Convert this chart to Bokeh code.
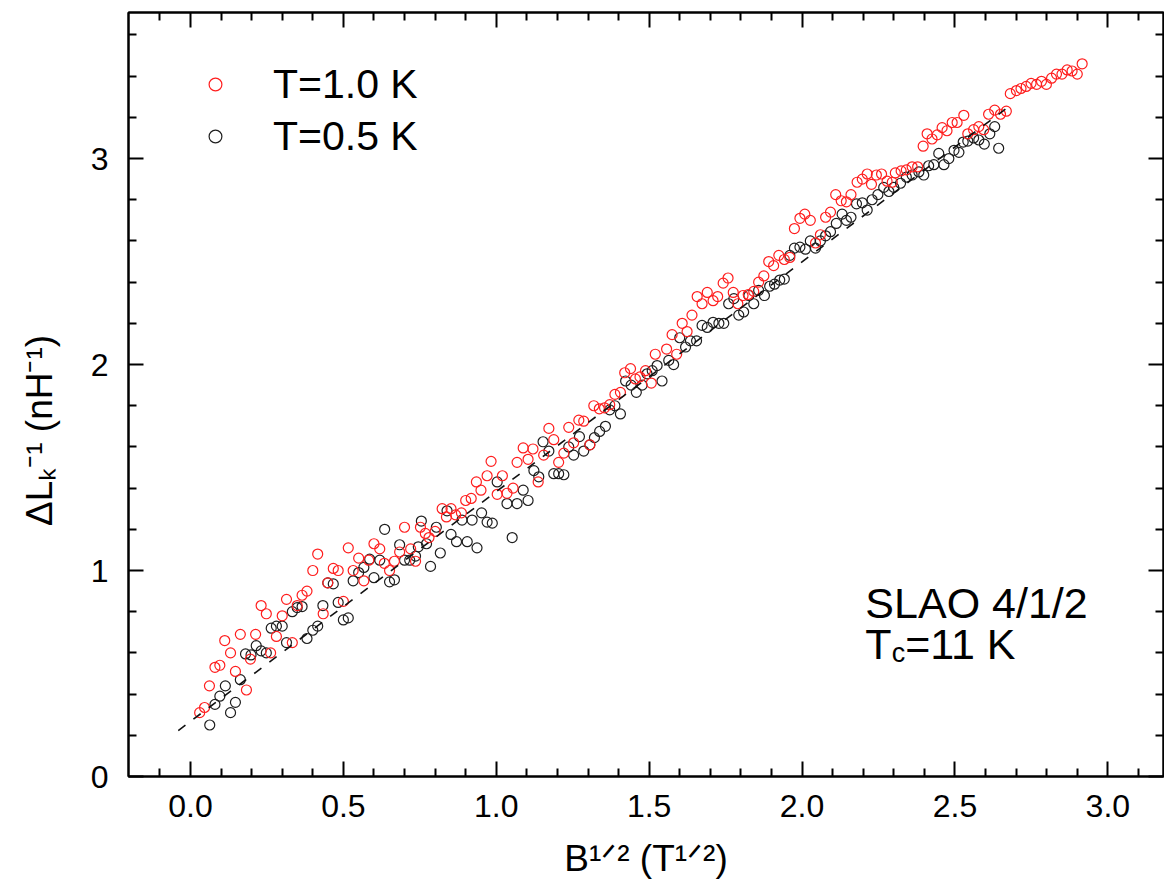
from bokeh.plotting import figure
from bokeh.models import (Range1d, LinearAxis, FixedTicker, Label, Legend, LegendItem,
                          NumeralTickFormatter)
from bokeh.embed import file_html
from bokeh.resources import INLINE

# ---------------- data ----------------
red_x = [0.030, 0.046, 0.062, 0.080, 0.096, 0.112, 0.131, 0.147, 0.163, 0.183, 0.196, 0.213,
         0.231, 0.248, 0.262, 0.281, 0.300, 0.314, 0.333, 0.349, 0.365, 0.381, 0.400, 0.416,
         0.434, 0.449, 0.467, 0.483, 0.500, 0.516, 0.532, 0.550, 0.567, 0.583, 0.600, 0.619,
         0.634, 0.651, 0.667, 0.684, 0.700, 0.720, 0.736, 0.752, 0.768, 0.780, 0.800, 0.823,
         0.837, 0.852, 0.867, 0.886, 0.900, 0.918, 0.935, 0.950, 0.970, 0.983, 1.003, 1.020,
         1.035, 1.055, 1.068, 1.088, 1.104, 1.120, 1.137, 1.155, 1.172, 1.188, 1.204, 1.221,
         1.237, 1.253, 1.270, 1.286, 1.306, 1.319, 1.337, 1.354, 1.371, 1.388, 1.406, 1.420,
         1.439, 1.455, 1.470, 1.488, 1.507, 1.520, 1.557, 1.575, 1.590, 1.608, 1.624, 1.640,
         1.657, 1.673, 1.690, 1.709, 1.724, 1.742, 1.758, 1.775, 1.790, 1.807, 1.824, 1.842,
         1.858, 1.875, 1.891, 1.907, 1.924, 1.942, 1.960, 1.975, 1.993, 2.009, 2.027, 2.044,
         2.060, 2.077, 2.093, 2.110, 2.128, 2.145, 2.160, 2.180, 2.197, 2.213, 2.227, 2.243,
         2.260, 2.278, 2.295, 2.305, 2.324, 2.341, 2.360, 2.378, 2.396, 2.409, 2.425, 2.442,
         2.458, 2.474, 2.491, 2.507, 2.529, 2.542, 2.561, 2.578, 2.594, 2.610, 2.630, 2.649,
         2.668, 2.681, 2.701, 2.716, 2.733, 2.749, 2.767, 2.783, 2.799, 2.816, 2.832, 2.850,
         2.867, 2.883, 2.900, 2.916]
red_y = [0.31, 0.335, 0.44, 0.53, 0.54, 0.66, 0.60, 0.51, 0.69, 0.42, 0.57, 0.69,
         0.83, 0.79, 0.60, 0.68, 0.78, 0.86, 0.65, 0.83, 0.88, 0.90, 1.00, 1.08,
         0.79, 0.94, 1.01, 1.00, 0.85, 1.11, 1.00, 1.06, 0.95, 1.05, 1.13, 1.105,
         1.035, 1.00, 1.045, 1.09, 1.21, 1.105, 1.045, 1.21, 1.18, 1.16, 1.19, 1.30,
         1.26, 1.30, 1.27, 1.28, 1.34, 1.35, 1.43, 1.39, 1.46, 1.53, 1.37, 1.46,
         1.375, 1.40, 1.525, 1.595, 1.54, 1.59, 1.43, 1.56, 1.69, 1.635, 1.525, 1.57,
         1.695, 1.62, 1.73, 1.725, 1.61, 1.80, 1.785, 1.79, 1.805, 1.855, 1.865, 1.96,
         1.98, 1.93, 1.94, 1.97, 1.91, 2.05, 2.075, 2.145, 2.05, 2.20, 2.16, 2.24,
         2.33, 2.295, 2.35, 2.31, 2.33, 2.395, 2.42, 2.35, 2.295, 2.335, 2.34, 2.355,
         2.40, 2.43, 2.50, 2.48, 2.53, 2.51, 2.52, 2.66, 2.71, 2.73, 2.70, 2.59,
         2.63, 2.715, 2.74, 2.825, 2.795, 2.79, 2.825, 2.885, 2.90, 2.925, 2.875, 2.92,
         2.925, 2.89, 2.885, 2.93, 2.94, 2.945, 2.96, 2.96, 3.06, 3.12, 3.095, 3.115,
         3.15, 3.135, 3.175, 3.175, 3.21, 3.12, 3.14, 3.155, 3.14, 3.215, 3.235, 3.215,
         3.23, 3.315, 3.33, 3.34, 3.35, 3.365, 3.36, 3.375, 3.36, 3.39, 3.41, 3.41,
         3.43, 3.425, 3.41, 3.46]

black_x = [0.063, 0.080, 0.096, 0.114, 0.131, 0.147, 0.163, 0.180, 0.198, 0.215, 0.231, 0.248,
           0.264, 0.281, 0.300, 0.314, 0.333, 0.349, 0.365, 0.381, 0.400, 0.416, 0.433, 0.449,
           0.467, 0.483, 0.500, 0.516, 0.532, 0.550, 0.567, 0.586, 0.600, 0.619, 0.635, 0.651,
           0.667, 0.684, 0.700, 0.717, 0.736, 0.745, 0.755, 0.772, 0.785, 0.804, 0.817, 0.839,
           0.852, 0.870, 0.888, 0.905, 0.921, 0.937, 0.952, 0.970, 0.987, 1.003, 1.035, 1.052,
           1.068, 1.088, 1.104, 1.123, 1.139, 1.153, 1.172, 1.188, 1.204, 1.221, 1.237, 1.253,
           1.272, 1.286, 1.306, 1.321, 1.338, 1.357, 1.371, 1.388, 1.406, 1.423, 1.441, 1.458,
           1.477, 1.493, 1.510, 1.526, 1.542, 1.564, 1.580, 1.600, 1.619, 1.635, 1.655, 1.673,
           1.690, 1.709, 1.728, 1.744, 1.760, 1.777, 1.793, 1.809, 1.826, 1.842, 1.858, 1.877,
           1.894, 1.910, 1.927, 1.942, 1.960, 1.975, 1.993, 2.011, 2.027, 2.044, 2.060, 2.077,
           2.093, 2.112, 2.131, 2.145, 2.160, 2.178, 2.197, 2.213, 2.229, 2.248, 2.267, 2.284,
           2.300, 2.322, 2.341, 2.360, 2.382, 2.398, 2.414, 2.431, 2.447, 2.464, 2.480, 2.497,
           2.513, 2.527, 2.542, 2.561, 2.578, 2.596, 2.614, 2.630, 2.643]
black_y = [0.25, 0.35, 0.39, 0.44, 0.31, 0.36, 0.47, 0.595, 0.59, 0.635, 0.61, 0.60,
           0.72, 0.73, 0.73, 0.65, 0.80, 0.82, 0.825, 0.67, 0.71, 0.73, 0.83, 0.94,
           0.935, 0.845, 0.76, 0.77, 0.95, 0.99, 1.015, 1.055, 0.965, 1.05, 1.20, 0.945,
           0.955, 1.125, 1.05, 1.05, 1.07, 1.115, 1.24, 1.13, 1.02, 1.21, 1.085, 1.29,
           1.175, 1.14, 1.245, 1.14, 1.245, 1.11, 1.28, 1.235, 1.23, 1.43, 1.325, 1.16,
           1.325, 1.39, 1.34, 1.485, 1.455, 1.625, 1.58, 1.47, 1.47, 1.465, 1.60, 1.56,
           1.65, 1.58, 1.61, 1.645, 1.675, 1.70, 1.78, 1.80, 1.76, 1.92, 1.90, 1.865,
           1.90, 1.955, 1.97, 1.995, 1.92, 2.02, 2.00, 2.13, 2.085, 2.115, 2.115, 2.19,
           2.18, 2.205, 2.20, 2.20, 2.295, 2.32, 2.24, 2.255, 2.335, 2.295, 2.36, 2.335,
           2.38, 2.39, 2.41, 2.415, 2.53, 2.565, 2.57, 2.56, 2.60, 2.565, 2.60, 2.625,
           2.645, 2.685, 2.73, 2.70, 2.715, 2.78, 2.785, 2.75, 2.80, 2.825, 2.86, 2.84,
           2.86, 2.88, 2.91, 2.92, 2.935, 2.92, 2.965, 2.97, 3.025, 2.97, 3.00, 3.04,
           3.03, 3.08, 3.085, 3.10, 3.09, 3.07, 3.12, 3.155, 3.05]

# linear fit (dashed)
fit_x = [-0.04, 2.665]
fit_y = [0.223, 3.24]

series_labels = ["T=1.0 K", "T=0.5 K"]
x_title = "B\u00b9\u141f\u00b2 (T\u00b9\u141f\u00b2)"
y_title = "\u0394L\u2096\u207b\u00b9 (nH\u207b\u00b9)"

x_major = [0.0, 0.5, 1.0, 1.5, 2.0, 2.5, 3.0]
x_minor = [-0.1, 0.1, 0.2, 0.3, 0.4, 0.6, 0.7, 0.8, 0.9, 1.1, 1.2, 1.3, 1.4, 1.6, 1.7, 1.8,
           1.9, 2.1, 2.2, 2.3, 2.4, 2.6, 2.7, 2.8, 2.9, 3.1]
y_major = [0, 1, 2, 3]
y_minor = [0.2, 0.4, 0.6, 0.8, 1.2, 1.4, 1.6, 1.8, 2.2, 2.4, 2.6, 2.8, 3.2, 3.4, 3.6]

# ---------------- style ----------------
FONT = "Liberation Sans"
RED = "#ff1e1e"
BLACK = "#1e1e1e"

p = figure(width=1164, height=892,
           x_range=Range1d(-0.2027, 3.182), y_range=Range1d(0.0, 3.709),
           output_backend="svg", toolbar_location=None,
           min_border_left=128, min_border_right=1, min_border_top=12, min_border_bottom=116)
p.grid.visible = False
p.outline_line_color = "black"
p.outline_line_width = 2
p.background_fill_color = "white"
p.border_fill_color = "white"


def style_axis(ax, ticks, minors, show_labels, fmt=None, standoff=0):
    ax.ticker = FixedTicker(ticks=ticks, minor_ticks=minors)
    ax.axis_line_color = "black"
    ax.axis_line_width = 2
    ax.major_tick_in = 15
    ax.major_tick_out = 0
    ax.minor_tick_in = 8
    ax.minor_tick_out = 0
    ax.major_tick_line_width = 2
    ax.minor_tick_line_width = 2
    ax.major_tick_line_color = "black"
    ax.minor_tick_line_color = "black"
    if show_labels:
        ax.formatter = fmt
        ax.major_label_text_font = FONT
        ax.major_label_text_font_size = "32px"
        ax.major_label_text_color = "black"
        ax.major_label_standoff = standoff
        ax.axis_label_text_font = FONT
        ax.axis_label_text_font_size = "37px"
        ax.axis_label_text_font_style = "normal"
        ax.axis_label_text_color = "black"
    else:
        ax.major_label_text_font_size = "1px"
        ax.major_label_text_color = None
        ax.major_label_standoff = 0


xa = p.xaxis[0]
ya = p.yaxis[0]
style_axis(xa, x_major, x_minor, True, NumeralTickFormatter(format="0.0"), 18)
style_axis(ya, y_major, y_minor, True, NumeralTickFormatter(format="0"), 20)
xa.axis_label = x_title
xa.axis_label_standoff = 18
# pad the end so the rotated title sits a little below the frame centre, as in the reference
ya.axis_label = y_title + "\u00a0" * 7
ya.axis_label_standoff = 28

top_ax = LinearAxis()
right_ax = LinearAxis()
style_axis(top_ax, x_major, x_minor, False)
style_axis(right_ax, y_major, y_minor, False)
p.add_layout(top_ax, "above")
p.add_layout(right_ax, "right")

# ---------------- data marks ----------------
r_black = p.scatter(black_x, black_y, marker="circle", size=10, fill_color=None,
                    line_color=BLACK, line_width=1.2)
r_red = p.scatter(red_x, red_y, marker="circle", size=10, fill_color=None,
                  line_color=RED, line_width=1.2)
p.line(fit_x, fit_y, line_color="#111111", line_width=1.6, line_dash="9 10")

legend = Legend(items=[LegendItem(label=series_labels[0], renderers=[r_red]),
                       LegendItem(label=series_labels[1], renderers=[r_black])],
                location=(71, 616), margin=0, padding=0, spacing=4,
                glyph_width=32, glyph_height=48, label_height=48, label_standoff=42,
                label_text_font=FONT, label_text_font_size="41px", label_text_color="black",
                border_line_alpha=0, background_fill_alpha=0)
p.add_layout(legend)


# ---------------- sample annotation (inside the frame) ----------------
def piece(text, x, y, size, dx=0.0, dy=0.0):
    p.add_layout(Label(x=x, y=y, x_offset=dx, y_offset=dy, text=text, text_font=FONT,
                       text_font_size=f"{size}px", text_color="black", text_align="left",
                       text_baseline="alphabetic"))


AN_X = 2.207
piece("SLAO 4/1/2", AN_X, 0.84, 43)
piece("T", AN_X, 0.645, 43)
piece("c", AN_X, 0.645, 27, dx=26.3, dy=-9)
piece("=11 K", AN_X, 0.645, 43, dx=39.8)

open("out.html", "w").write(file_html(p, INLINE))
